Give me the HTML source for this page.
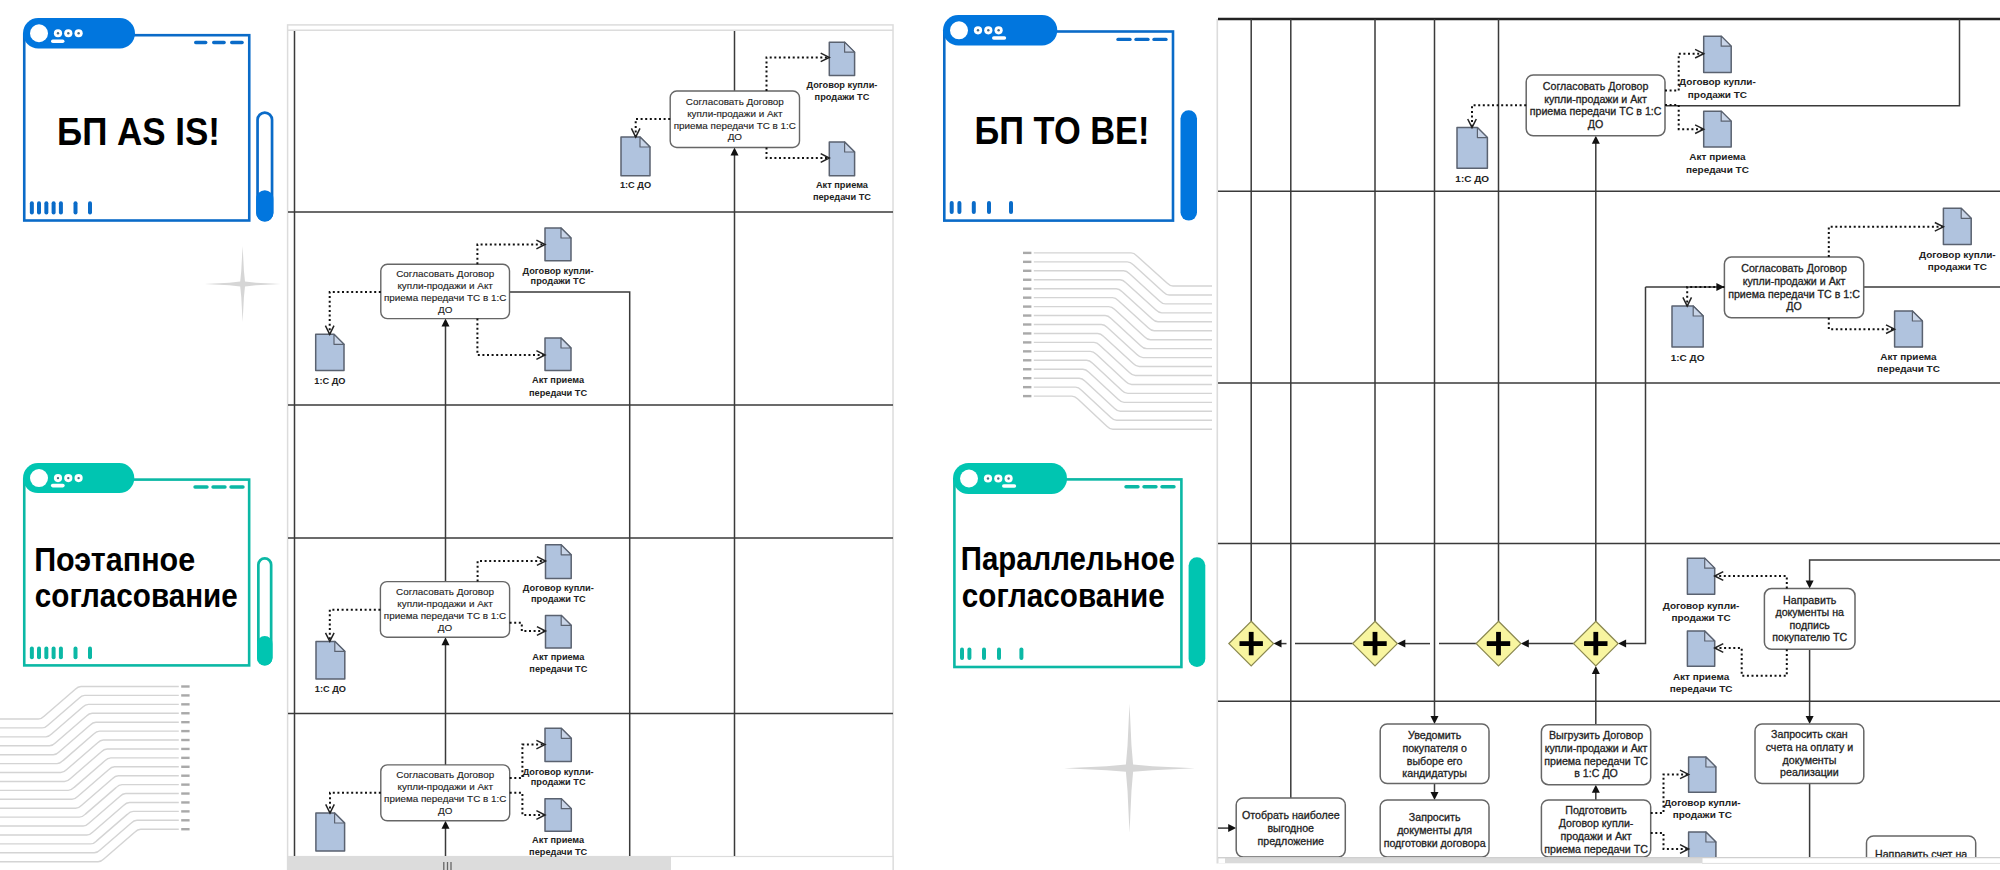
<!DOCTYPE html>
<html><head><meta charset="utf-8"><title>BPMN</title>
<style>html,body{margin:0;padding:0;background:#fff;}body{width:2000px;height:870px;position:relative;overflow:hidden;font-family:"Liberation Sans",sans-serif;}</style>
</head><body>
<svg width="2000" height="870" viewBox="0 0 2000 870" style="position:absolute;left:0;top:0">
<g font-family="Liberation Sans, sans-serif">
<path d="M0,719 H38.4 Q41.4,719 44.4,716 L75,689.5 Q78,686.5 81,686.5 H178.8" fill="none" stroke="#d4d4d4" stroke-width="1.4"/>
<line x1="181.2" y1="686.5" x2="189.6" y2="686.5" stroke="#a9a9a9" stroke-width="2.4"/>
<path d="M0,727.92 H42.13 Q45.13,727.92 48.13,724.92 L78.73,698.42 Q81.73,695.42 84.73,695.42 H178.8" fill="none" stroke="#d4d4d4" stroke-width="1.4"/>
<line x1="181.2" y1="695.42" x2="189.6" y2="695.42" stroke="#a9a9a9" stroke-width="2.4"/>
<path d="M0,736.84 H45.86 Q48.86,736.84 51.86,733.84 L82.46,707.34 Q85.46,704.34 88.46,704.34 H178.8" fill="none" stroke="#d4d4d4" stroke-width="1.4"/>
<line x1="181.2" y1="704.34" x2="189.6" y2="704.34" stroke="#a9a9a9" stroke-width="2.4"/>
<path d="M0,745.76 H49.59 Q52.59,745.76 55.59,742.76 L86.19,716.26 Q89.19,713.26 92.19,713.26 H178.8" fill="none" stroke="#d4d4d4" stroke-width="1.4"/>
<line x1="181.2" y1="713.26" x2="189.6" y2="713.26" stroke="#a9a9a9" stroke-width="2.4"/>
<path d="M0,754.68 H53.32 Q56.32,754.68 59.32,751.68 L89.92,725.18 Q92.92,722.18 95.92,722.18 H178.8" fill="none" stroke="#d4d4d4" stroke-width="1.4"/>
<line x1="181.2" y1="722.18" x2="189.6" y2="722.18" stroke="#a9a9a9" stroke-width="2.4"/>
<path d="M0,763.6 H57.05 Q60.05,763.6 63.05,760.6 L93.65,734.1 Q96.65,731.1 99.65,731.1 H178.8" fill="none" stroke="#d4d4d4" stroke-width="1.4"/>
<line x1="181.2" y1="731.1" x2="189.6" y2="731.1" stroke="#a9a9a9" stroke-width="2.4"/>
<path d="M0,772.52 H60.78 Q63.78,772.52 66.78,769.52 L97.38,743.02 Q100.38,740.02 103.38,740.02 H178.8" fill="none" stroke="#d4d4d4" stroke-width="1.4"/>
<line x1="181.2" y1="740.02" x2="189.6" y2="740.02" stroke="#a9a9a9" stroke-width="2.4"/>
<path d="M0,781.44 H64.51 Q67.51,781.44 70.51,778.44 L101.11,751.94 Q104.11,748.94 107.11,748.94 H178.8" fill="none" stroke="#d4d4d4" stroke-width="1.4"/>
<line x1="181.2" y1="748.94" x2="189.6" y2="748.94" stroke="#a9a9a9" stroke-width="2.4"/>
<path d="M0,790.36 H68.24 Q71.24,790.36 74.24,787.36 L104.84,760.86 Q107.84,757.86 110.84,757.86 H178.8" fill="none" stroke="#d4d4d4" stroke-width="1.4"/>
<line x1="181.2" y1="757.86" x2="189.6" y2="757.86" stroke="#a9a9a9" stroke-width="2.4"/>
<path d="M0,799.28 H71.97 Q74.97,799.28 77.97,796.28 L108.57,769.78 Q111.57,766.78 114.57,766.78 H178.8" fill="none" stroke="#d4d4d4" stroke-width="1.4"/>
<line x1="181.2" y1="766.78" x2="189.6" y2="766.78" stroke="#a9a9a9" stroke-width="2.4"/>
<path d="M0,808.2 H75.7 Q78.7,808.2 81.7,805.2 L112.3,778.7 Q115.3,775.7 118.3,775.7 H178.8" fill="none" stroke="#d4d4d4" stroke-width="1.4"/>
<line x1="181.2" y1="775.7" x2="189.6" y2="775.7" stroke="#a9a9a9" stroke-width="2.4"/>
<path d="M0,817.12 H79.43 Q82.43,817.12 85.43,814.12 L116.03,787.62 Q119.03,784.62 122.03,784.62 H178.8" fill="none" stroke="#d4d4d4" stroke-width="1.4"/>
<line x1="181.2" y1="784.62" x2="189.6" y2="784.62" stroke="#a9a9a9" stroke-width="2.4"/>
<path d="M0,826.04 H83.16 Q86.16,826.04 89.16,823.04 L119.76,796.54 Q122.76,793.54 125.76,793.54 H178.8" fill="none" stroke="#d4d4d4" stroke-width="1.4"/>
<line x1="181.2" y1="793.54" x2="189.6" y2="793.54" stroke="#a9a9a9" stroke-width="2.4"/>
<path d="M0,834.96 H86.89 Q89.89,834.96 92.89,831.96 L123.49,805.46 Q126.49,802.46 129.49,802.46 H178.8" fill="none" stroke="#d4d4d4" stroke-width="1.4"/>
<line x1="181.2" y1="802.46" x2="189.6" y2="802.46" stroke="#a9a9a9" stroke-width="2.4"/>
<path d="M0,843.88 H90.62 Q93.62,843.88 96.62,840.88 L127.22,814.38 Q130.22,811.38 133.22,811.38 H178.8" fill="none" stroke="#d4d4d4" stroke-width="1.4"/>
<line x1="181.2" y1="811.38" x2="189.6" y2="811.38" stroke="#a9a9a9" stroke-width="2.4"/>
<path d="M0,852.8 H94.35 Q97.35,852.8 100.35,849.8 L130.95,823.3 Q133.95,820.3 136.95,820.3 H178.8" fill="none" stroke="#d4d4d4" stroke-width="1.4"/>
<line x1="181.2" y1="820.3" x2="189.6" y2="820.3" stroke="#a9a9a9" stroke-width="2.4"/>
<path d="M0,861.72 H98.08 Q101.08,861.72 104.08,858.72 L134.68,832.22 Q137.68,829.22 140.68,829.22 H178.8" fill="none" stroke="#d4d4d4" stroke-width="1.4"/>
<line x1="181.2" y1="829.22" x2="189.6" y2="829.22" stroke="#a9a9a9" stroke-width="2.4"/>
<path d="M1033.8,252.9 H1131 Q1134,252.9 1137,255.9 L1167,283 Q1170,286 1173,286 H1212" fill="none" stroke="#d4d4d4" stroke-width="1.4"/>
<line x1="1023" y1="252.9" x2="1031.4" y2="252.9" stroke="#a9a9a9" stroke-width="2.4"/>
<path d="M1033.8,261.85 H1127.3 Q1130.3,261.85 1133.3,264.85 L1163.24,291.95 Q1166.24,294.95 1169.24,294.95 H1212" fill="none" stroke="#d4d4d4" stroke-width="1.4"/>
<line x1="1023" y1="261.85" x2="1031.4" y2="261.85" stroke="#a9a9a9" stroke-width="2.4"/>
<path d="M1033.8,270.8 H1123.6 Q1126.6,270.8 1129.6,273.8 L1159.48,300.9 Q1162.48,303.9 1165.48,303.9 H1212" fill="none" stroke="#d4d4d4" stroke-width="1.4"/>
<line x1="1023" y1="270.8" x2="1031.4" y2="270.8" stroke="#a9a9a9" stroke-width="2.4"/>
<path d="M1033.8,279.75 H1119.9 Q1122.9,279.75 1125.9,282.75 L1155.72,309.85 Q1158.72,312.85 1161.72,312.85 H1212" fill="none" stroke="#d4d4d4" stroke-width="1.4"/>
<line x1="1023" y1="279.75" x2="1031.4" y2="279.75" stroke="#a9a9a9" stroke-width="2.4"/>
<path d="M1033.8,288.7 H1116.2 Q1119.2,288.7 1122.2,291.7 L1151.96,318.8 Q1154.96,321.8 1157.96,321.8 H1212" fill="none" stroke="#d4d4d4" stroke-width="1.4"/>
<line x1="1023" y1="288.7" x2="1031.4" y2="288.7" stroke="#a9a9a9" stroke-width="2.4"/>
<path d="M1033.8,297.65 H1112.5 Q1115.5,297.65 1118.5,300.65 L1148.2,327.75 Q1151.2,330.75 1154.2,330.75 H1212" fill="none" stroke="#d4d4d4" stroke-width="1.4"/>
<line x1="1023" y1="297.65" x2="1031.4" y2="297.65" stroke="#a9a9a9" stroke-width="2.4"/>
<path d="M1033.8,306.6 H1108.8 Q1111.8,306.6 1114.8,309.6 L1144.44,336.7 Q1147.44,339.7 1150.44,339.7 H1212" fill="none" stroke="#d4d4d4" stroke-width="1.4"/>
<line x1="1023" y1="306.6" x2="1031.4" y2="306.6" stroke="#a9a9a9" stroke-width="2.4"/>
<path d="M1033.8,315.55 H1105.1 Q1108.1,315.55 1111.1,318.55 L1140.68,345.65 Q1143.68,348.65 1146.68,348.65 H1212" fill="none" stroke="#d4d4d4" stroke-width="1.4"/>
<line x1="1023" y1="315.55" x2="1031.4" y2="315.55" stroke="#a9a9a9" stroke-width="2.4"/>
<path d="M1033.8,324.5 H1101.4 Q1104.4,324.5 1107.4,327.5 L1136.92,354.6 Q1139.92,357.6 1142.92,357.6 H1212" fill="none" stroke="#d4d4d4" stroke-width="1.4"/>
<line x1="1023" y1="324.5" x2="1031.4" y2="324.5" stroke="#a9a9a9" stroke-width="2.4"/>
<path d="M1033.8,333.45 H1097.7 Q1100.7,333.45 1103.7,336.45 L1133.16,363.55 Q1136.16,366.55 1139.16,366.55 H1212" fill="none" stroke="#d4d4d4" stroke-width="1.4"/>
<line x1="1023" y1="333.45" x2="1031.4" y2="333.45" stroke="#a9a9a9" stroke-width="2.4"/>
<path d="M1033.8,342.4 H1094 Q1097,342.4 1100,345.4 L1129.4,372.5 Q1132.4,375.5 1135.4,375.5 H1212" fill="none" stroke="#d4d4d4" stroke-width="1.4"/>
<line x1="1023" y1="342.4" x2="1031.4" y2="342.4" stroke="#a9a9a9" stroke-width="2.4"/>
<path d="M1033.8,351.35 H1090.3 Q1093.3,351.35 1096.3,354.35 L1125.64,381.45 Q1128.64,384.45 1131.64,384.45 H1212" fill="none" stroke="#d4d4d4" stroke-width="1.4"/>
<line x1="1023" y1="351.35" x2="1031.4" y2="351.35" stroke="#a9a9a9" stroke-width="2.4"/>
<path d="M1033.8,360.3 H1086.6 Q1089.6,360.3 1092.6,363.3 L1121.88,390.4 Q1124.88,393.4 1127.88,393.4 H1212" fill="none" stroke="#d4d4d4" stroke-width="1.4"/>
<line x1="1023" y1="360.3" x2="1031.4" y2="360.3" stroke="#a9a9a9" stroke-width="2.4"/>
<path d="M1033.8,369.25 H1082.9 Q1085.9,369.25 1088.9,372.25 L1118.12,399.35 Q1121.12,402.35 1124.12,402.35 H1212" fill="none" stroke="#d4d4d4" stroke-width="1.4"/>
<line x1="1023" y1="369.25" x2="1031.4" y2="369.25" stroke="#a9a9a9" stroke-width="2.4"/>
<path d="M1033.8,378.2 H1079.2 Q1082.2,378.2 1085.2,381.2 L1114.36,408.3 Q1117.36,411.3 1120.36,411.3 H1212" fill="none" stroke="#d4d4d4" stroke-width="1.4"/>
<line x1="1023" y1="378.2" x2="1031.4" y2="378.2" stroke="#a9a9a9" stroke-width="2.4"/>
<path d="M1033.8,387.15 H1075.5 Q1078.5,387.15 1081.5,390.15 L1110.6,417.25 Q1113.6,420.25 1116.6,420.25 H1212" fill="none" stroke="#d4d4d4" stroke-width="1.4"/>
<line x1="1023" y1="387.15" x2="1031.4" y2="387.15" stroke="#a9a9a9" stroke-width="2.4"/>
<path d="M1033.8,396.1 H1071.8 Q1074.8,396.1 1077.8,399.1 L1106.84,426.2 Q1109.84,429.2 1112.84,429.2 H1212" fill="none" stroke="#d4d4d4" stroke-width="1.4"/>
<line x1="1023" y1="396.1" x2="1031.4" y2="396.1" stroke="#a9a9a9" stroke-width="2.4"/>
<path d="M242.6,246 L243.92,270.7 L245,281.6 L255.9,282.68 L280.6,284 L255.9,285.32 L245,286.4 L243.92,297.3 L242.6,322 L241.28,297.3 L240.2,286.4 L229.3,285.32 L204.6,284 L229.3,282.68 L240.2,281.6 L241.28,270.7 Z" fill="#d6d6d6"/>
<path d="M1129.5,703.7 L1131.48,745.62 L1133.1,764.6 L1152.42,766.22 L1195,768.2 L1152.42,770.18 L1133.1,771.8 L1131.48,790.78 L1129.5,832.7 L1127.52,790.78 L1125.9,771.8 L1106.58,770.18 L1064,768.2 L1106.58,766.22 L1125.9,764.6 L1127.52,745.62 Z" fill="#d6d6d6"/>
<rect x="24.25" y="35.2" width="225" height="185.3" fill="none" stroke="#0a6bc8" stroke-width="2.6"/>
<rect x="23" y="18" width="112" height="30.5" rx="15.25" fill="#0176de"/>
<circle cx="39" cy="33.25" r="9" fill="#fff"/>
<circle cx="58" cy="33.25" r="4.1" fill="#fff"/><circle cx="58" cy="33.25" r="1.2" fill="#4a6a80"/>
<circle cx="68.3" cy="33.25" r="4.1" fill="#fff"/><circle cx="68.3" cy="33.25" r="1.2" fill="#4a6a80"/>
<circle cx="78.6" cy="33.25" r="4.1" fill="#fff"/><circle cx="78.6" cy="33.25" r="1.2" fill="#4a6a80"/>
<rect x="51" y="39.4" width="13.5" height="3.6" rx="1.8" fill="#fff"/>
<line x1="195.7" y1="42.5" x2="205.7" y2="42.5" stroke="#0a6bc8" stroke-width="3.4" stroke-linecap="round"/>
<line x1="213.7" y1="42.5" x2="224.1" y2="42.5" stroke="#0a6bc8" stroke-width="3.4" stroke-linecap="round"/>
<line x1="231.7" y1="42.5" x2="242.1" y2="42.5" stroke="#0a6bc8" stroke-width="3.4" stroke-linecap="round"/>
<line x1="31.85" y1="203.3" x2="31.85" y2="212.5" stroke="#0a6bc8" stroke-width="4" stroke-linecap="round"/>
<line x1="39" y1="203.3" x2="39" y2="212.5" stroke="#0a6bc8" stroke-width="4" stroke-linecap="round"/>
<line x1="46.35" y1="203.3" x2="46.35" y2="212.5" stroke="#0a6bc8" stroke-width="4" stroke-linecap="round"/>
<line x1="53.6" y1="203.3" x2="53.6" y2="212.5" stroke="#0a6bc8" stroke-width="4" stroke-linecap="round"/>
<line x1="60.9" y1="203.3" x2="60.9" y2="212.5" stroke="#0a6bc8" stroke-width="4" stroke-linecap="round"/>
<line x1="75.5" y1="203.3" x2="75.5" y2="212.5" stroke="#0a6bc8" stroke-width="4" stroke-linecap="round"/>
<line x1="90" y1="203.3" x2="90" y2="212.5" stroke="#0a6bc8" stroke-width="4" stroke-linecap="round"/>
<rect x="257.55" y="112.55" width="14.5" height="107.7" rx="7.25" fill="none" stroke="#0a6bc8" stroke-width="2.7"/>
<rect x="256.2" y="190.3" width="17.2" height="31.3" rx="8.6" fill="#0176de"/>
<text x="57" y="145" font-size="39.5" font-weight="bold" fill="#000" textLength="163" lengthAdjust="spacingAndGlyphs">БП AS IS!</text>
<rect x="24.25" y="479.6" width="224.9" height="185.8" fill="none" stroke="#0bb8a5" stroke-width="2.6"/>
<rect x="23" y="463.1" width="111.3" height="30" rx="15" fill="#00c5b1"/>
<circle cx="39" cy="478.1" r="9" fill="#fff"/>
<circle cx="58" cy="478.1" r="4.1" fill="#fff"/><circle cx="58" cy="478.1" r="1.2" fill="#4a6a80"/>
<circle cx="68.3" cy="478.1" r="4.1" fill="#fff"/><circle cx="68.3" cy="478.1" r="1.2" fill="#4a6a80"/>
<circle cx="78.6" cy="478.1" r="4.1" fill="#fff"/><circle cx="78.6" cy="478.1" r="1.2" fill="#4a6a80"/>
<rect x="50.9" y="483.8" width="13.8" height="3.6" rx="1.8" fill="#fff"/>
<line x1="195" y1="487" x2="207" y2="487" stroke="#0bb8a5" stroke-width="3.4" stroke-linecap="round"/>
<line x1="213" y1="487" x2="225" y2="487" stroke="#0bb8a5" stroke-width="3.4" stroke-linecap="round"/>
<line x1="231" y1="487" x2="243" y2="487" stroke="#0bb8a5" stroke-width="3.4" stroke-linecap="round"/>
<line x1="31.85" y1="648.4" x2="31.85" y2="657.2" stroke="#0bb8a5" stroke-width="4" stroke-linecap="round"/>
<line x1="39" y1="648.4" x2="39" y2="657.2" stroke="#0bb8a5" stroke-width="4" stroke-linecap="round"/>
<line x1="46.35" y1="648.4" x2="46.35" y2="657.2" stroke="#0bb8a5" stroke-width="4" stroke-linecap="round"/>
<line x1="53.6" y1="648.4" x2="53.6" y2="657.2" stroke="#0bb8a5" stroke-width="4" stroke-linecap="round"/>
<line x1="60.9" y1="648.4" x2="60.9" y2="657.2" stroke="#0bb8a5" stroke-width="4" stroke-linecap="round"/>
<line x1="75.5" y1="648.4" x2="75.5" y2="657.2" stroke="#0bb8a5" stroke-width="4" stroke-linecap="round"/>
<line x1="90" y1="648.4" x2="90" y2="657.2" stroke="#0bb8a5" stroke-width="4" stroke-linecap="round"/>
<rect x="258.35" y="558.35" width="12.8" height="105.9" rx="6.4" fill="none" stroke="#0bb8a5" stroke-width="2.7"/>
<rect x="257" y="636" width="15.5" height="29.6" rx="7.75" fill="#00c5b1"/>
<text x="34.2" y="571" font-size="33.2" font-weight="bold" fill="#000" textLength="161" lengthAdjust="spacingAndGlyphs">Поэтапное</text>
<text x="34.8" y="607" font-size="33.2" font-weight="bold" fill="#000" textLength="203" lengthAdjust="spacingAndGlyphs">согласование</text>
<rect x="944.3" y="31.5" width="228.7" height="189.1" fill="none" stroke="#0a6bc8" stroke-width="2.6"/>
<rect x="943" y="15" width="114.3" height="30.6" rx="15.3" fill="#0176de"/>
<circle cx="959" cy="30.3" r="9" fill="#fff"/>
<circle cx="978" cy="30.3" r="4.1" fill="#fff"/><circle cx="978" cy="30.3" r="1.2" fill="#4a6a80"/>
<circle cx="988.3" cy="30.3" r="4.1" fill="#fff"/><circle cx="988.3" cy="30.3" r="1.2" fill="#4a6a80"/>
<circle cx="998.6" cy="30.3" r="4.1" fill="#fff"/><circle cx="998.6" cy="30.3" r="1.2" fill="#4a6a80"/>
<rect x="992" y="36.2" width="14.2" height="3.6" rx="1.8" fill="#fff"/>
<line x1="1118" y1="39.4" x2="1130" y2="39.4" stroke="#0a6bc8" stroke-width="3.4" stroke-linecap="round"/>
<line x1="1136" y1="39.4" x2="1148" y2="39.4" stroke="#0a6bc8" stroke-width="3.4" stroke-linecap="round"/>
<line x1="1154" y1="39.4" x2="1166" y2="39.4" stroke="#0a6bc8" stroke-width="3.4" stroke-linecap="round"/>
<line x1="951.7" y1="203" x2="951.7" y2="212" stroke="#0a6bc8" stroke-width="4" stroke-linecap="round"/>
<line x1="959.4" y1="203" x2="959.4" y2="212" stroke="#0a6bc8" stroke-width="4" stroke-linecap="round"/>
<line x1="973.8" y1="203" x2="973.8" y2="212" stroke="#0a6bc8" stroke-width="4" stroke-linecap="round"/>
<line x1="989" y1="203" x2="989" y2="212" stroke="#0a6bc8" stroke-width="4" stroke-linecap="round"/>
<line x1="1011" y1="203" x2="1011" y2="212" stroke="#0a6bc8" stroke-width="4" stroke-linecap="round"/>
<rect x="1180.5" y="110.3" width="16.5" height="110.3" rx="8.25" fill="#0176de"/>
<text x="974.5" y="144.4" font-size="39.5" font-weight="bold" fill="#000" textLength="175" lengthAdjust="spacingAndGlyphs">БП TO BE!</text>
<rect x="954.4" y="479.4" width="227" height="187.6" fill="none" stroke="#0bb8a5" stroke-width="2.6"/>
<rect x="953" y="463" width="114" height="31" rx="15.5" fill="#00c5b1"/>
<circle cx="969" cy="478.5" r="9" fill="#fff"/>
<circle cx="988" cy="478.5" r="4.1" fill="#fff"/><circle cx="988" cy="478.5" r="1.2" fill="#4a6a80"/>
<circle cx="998.3" cy="478.5" r="4.1" fill="#fff"/><circle cx="998.3" cy="478.5" r="1.2" fill="#4a6a80"/>
<circle cx="1008.6" cy="478.5" r="4.1" fill="#fff"/><circle cx="1008.6" cy="478.5" r="1.2" fill="#4a6a80"/>
<rect x="1002" y="484.2" width="14.2" height="3.6" rx="1.8" fill="#fff"/>
<line x1="1126" y1="486.8" x2="1138" y2="486.8" stroke="#0bb8a5" stroke-width="3.4" stroke-linecap="round"/>
<line x1="1144" y1="486.8" x2="1156" y2="486.8" stroke="#0bb8a5" stroke-width="3.4" stroke-linecap="round"/>
<line x1="1162" y1="486.8" x2="1174" y2="486.8" stroke="#0bb8a5" stroke-width="3.4" stroke-linecap="round"/>
<line x1="962" y1="649.5" x2="962" y2="658" stroke="#0bb8a5" stroke-width="4" stroke-linecap="round"/>
<line x1="969.4" y1="649.5" x2="969.4" y2="658" stroke="#0bb8a5" stroke-width="4" stroke-linecap="round"/>
<line x1="984" y1="649.5" x2="984" y2="658" stroke="#0bb8a5" stroke-width="4" stroke-linecap="round"/>
<line x1="999" y1="649.5" x2="999" y2="658" stroke="#0bb8a5" stroke-width="4" stroke-linecap="round"/>
<line x1="1021.4" y1="649.5" x2="1021.4" y2="658" stroke="#0bb8a5" stroke-width="4" stroke-linecap="round"/>
<rect x="1188.6" y="557.2" width="16.7" height="109.8" rx="8.35" fill="#00c5b1"/>
<text x="960.8" y="570.2" font-size="33.2" font-weight="bold" fill="#000" textLength="214" lengthAdjust="spacingAndGlyphs">Параллельное</text>
<text x="961.8" y="606.8" font-size="33.2" font-weight="bold" fill="#000" textLength="203" lengthAdjust="spacingAndGlyphs">согласование</text>
<rect x="287.6" y="24.9" width="605.4" height="860" fill="#fff" stroke="#dcdcdc" stroke-width="1.5"/>
<line x1="288" y1="30.3" x2="893" y2="30.3" stroke="#dcdcdc" stroke-width="1.5"/>
<rect x="288" y="856.5" width="605" height="20" fill="#fff" stroke="#dcdcdc" stroke-width="1.2"/>
<rect x="288" y="857" width="383" height="14" fill="#dcdcdc"/>
<line x1="443.8" y1="862" x2="443.8" y2="870" stroke="#666" stroke-width="1.3"/>
<line x1="447.5" y1="862" x2="447.5" y2="870" stroke="#666" stroke-width="1.3"/>
<line x1="451" y1="862" x2="451" y2="870" stroke="#666" stroke-width="1.3"/>
<path d="M294.5,31 L294.5,856" fill="none" stroke="#3a3a3a" stroke-width="1.5"/>
<path d="M288,212 L893,212" fill="none" stroke="#3a3a3a" stroke-width="1.5"/>
<path d="M288,405 L893,405" fill="none" stroke="#3a3a3a" stroke-width="1.5"/>
<path d="M288,538 L893,538" fill="none" stroke="#3a3a3a" stroke-width="1.5"/>
<path d="M288,713.5 L893,713.5" fill="none" stroke="#3a3a3a" stroke-width="1.5"/>
<path d="M734.5,31 L734.5,91" fill="none" stroke="#3a3a3a" stroke-width="1.5"/>
<path d="M734.5,856 L734.5,150" fill="none" stroke="#3a3a3a" stroke-width="1.5"/>
<path d="M734.5,147.5 L730.5,155.5 L738.5,155.5Z" fill="#111"/>
<path d="M445.5,581.6 L445.5,321" fill="none" stroke="#3a3a3a" stroke-width="1.5"/>
<path d="M445.5,318.6 L441.5,326.6 L449.5,326.6Z" fill="#111"/>
<path d="M445.5,765 L445.5,640" fill="none" stroke="#3a3a3a" stroke-width="1.5"/>
<path d="M445.5,637.2 L441.5,645.2 L449.5,645.2Z" fill="#111"/>
<path d="M445.5,856 L445.5,824" fill="none" stroke="#3a3a3a" stroke-width="1.5"/>
<path d="M445.5,820.8 L441.5,828.8 L449.5,828.8Z" fill="#111"/>
<path d="M509.5,292 L629.7,292 L629.7,856" fill="none" stroke="#3a3a3a" stroke-width="1.5"/>
<rect x="670.2" y="91" width="129.3" height="56.5" rx="6.5" fill="#fff" stroke="#666" stroke-width="1.4"/>
<text transform="translate(734.85,104.71) scale(1.075,1)" font-size="9.2" fill="#222" stroke="#222" stroke-width="0.12" text-anchor="middle">Согласовать Договор</text>
<text transform="translate(734.85,116.61) scale(1.075,1)" font-size="9.2" fill="#222" stroke="#222" stroke-width="0.12" text-anchor="middle">купли-продажи и Акт</text>
<text transform="translate(734.85,128.51) scale(1.075,1)" font-size="9.2" fill="#222" stroke="#222" stroke-width="0.12" text-anchor="middle">приема передачи ТС в 1:С</text>
<text transform="translate(734.85,140.41) scale(1.075,1)" font-size="9.2" fill="#222" stroke="#222" stroke-width="0.12" text-anchor="middle">ДО</text>
<rect x="380.8" y="264.3" width="128.7" height="54.3" rx="6.5" fill="#fff" stroke="#666" stroke-width="1.4"/>
<text transform="translate(445.15,276.91) scale(1.075,1)" font-size="9.2" fill="#222" stroke="#222" stroke-width="0.12" text-anchor="middle">Согласовать Договор</text>
<text transform="translate(445.15,288.81) scale(1.075,1)" font-size="9.2" fill="#222" stroke="#222" stroke-width="0.12" text-anchor="middle">купли-продажи и Акт</text>
<text transform="translate(445.15,300.71) scale(1.075,1)" font-size="9.2" fill="#222" stroke="#222" stroke-width="0.12" text-anchor="middle">приема передачи ТС в 1:С</text>
<text transform="translate(445.15,312.61) scale(1.075,1)" font-size="9.2" fill="#222" stroke="#222" stroke-width="0.12" text-anchor="middle">ДО</text>
<rect x="380.4" y="581.6" width="129.2" height="55.6" rx="6.5" fill="#fff" stroke="#666" stroke-width="1.4"/>
<text transform="translate(445,594.86) scale(1.075,1)" font-size="9.2" fill="#222" stroke="#222" stroke-width="0.12" text-anchor="middle">Согласовать Договор</text>
<text transform="translate(445,606.76) scale(1.075,1)" font-size="9.2" fill="#222" stroke="#222" stroke-width="0.12" text-anchor="middle">купли-продажи и Акт</text>
<text transform="translate(445,618.66) scale(1.075,1)" font-size="9.2" fill="#222" stroke="#222" stroke-width="0.12" text-anchor="middle">приема передачи ТС в 1:С</text>
<text transform="translate(445,630.56) scale(1.075,1)" font-size="9.2" fill="#222" stroke="#222" stroke-width="0.12" text-anchor="middle">ДО</text>
<rect x="380.8" y="764.9" width="128.9" height="55.9" rx="6.5" fill="#fff" stroke="#666" stroke-width="1.4"/>
<text transform="translate(445.25,778.31) scale(1.075,1)" font-size="9.2" fill="#222" stroke="#222" stroke-width="0.12" text-anchor="middle">Согласовать Договор</text>
<text transform="translate(445.25,790.21) scale(1.075,1)" font-size="9.2" fill="#222" stroke="#222" stroke-width="0.12" text-anchor="middle">купли-продажи и Акт</text>
<text transform="translate(445.25,802.11) scale(1.075,1)" font-size="9.2" fill="#222" stroke="#222" stroke-width="0.12" text-anchor="middle">приема передачи ТС в 1:С</text>
<text transform="translate(445.25,814.01) scale(1.075,1)" font-size="9.2" fill="#222" stroke="#222" stroke-width="0.12" text-anchor="middle">ДО</text>
<path d="M829.3,42.2 H844.6 L854.6,52.2 V75.5 H829.3 Z" fill="#b0c3de" stroke="#5a6270" stroke-width="1.5" stroke-linejoin="round"/>
<path d="M844.6,42.2 V52.2 H854.6 Z" fill="#c9d5e8" stroke="#5a6270" stroke-width="1.2000000000000002" stroke-linejoin="round"/>
<text transform="translate(841.95,88.1) scale(1.075,1)" font-size="8.6" font-weight="bold" fill="#222" text-anchor="middle">Договор купли-</text>
<text transform="translate(841.95,99.9) scale(1.075,1)" font-size="8.6" font-weight="bold" fill="#222" text-anchor="middle">продажи ТС</text>
<path d="M829.3,142 H844.6 L854.6,152 V175.7 H829.3 Z" fill="#b0c3de" stroke="#5a6270" stroke-width="1.5" stroke-linejoin="round"/>
<path d="M844.6,142 V152 H854.6 Z" fill="#c9d5e8" stroke="#5a6270" stroke-width="1.2000000000000002" stroke-linejoin="round"/>
<text transform="translate(841.95,188) scale(1.075,1)" font-size="8.6" font-weight="bold" fill="#222" text-anchor="middle">Акт приема</text>
<text transform="translate(841.95,200) scale(1.075,1)" font-size="8.6" font-weight="bold" fill="#222" text-anchor="middle">передачи ТС</text>
<path d="M621,137 H640 L650,147 V175.7 H621 Z" fill="#b0c3de" stroke="#5a6270" stroke-width="1.5" stroke-linejoin="round"/>
<path d="M640,137 V147 H650 Z" fill="#c9d5e8" stroke="#5a6270" stroke-width="1.2000000000000002" stroke-linejoin="round"/>
<text transform="translate(635.5,188.1) scale(1.075,1)" font-size="8.6" font-weight="bold" fill="#222" text-anchor="middle">1:С ДО</text>
<path d="M545,228 H561 L571,238 V260.7 H545 Z" fill="#b0c3de" stroke="#5a6270" stroke-width="1.5" stroke-linejoin="round"/>
<path d="M561,228 V238 H571 Z" fill="#c9d5e8" stroke="#5a6270" stroke-width="1.2000000000000002" stroke-linejoin="round"/>
<text transform="translate(558,273.5) scale(1.075,1)" font-size="8.6" font-weight="bold" fill="#222" text-anchor="middle">Договор купли-</text>
<text transform="translate(558,284.3) scale(1.075,1)" font-size="8.6" font-weight="bold" fill="#222" text-anchor="middle">продажи ТС</text>
<path d="M545,338 H561 L571,348 V370.5 H545 Z" fill="#b0c3de" stroke="#5a6270" stroke-width="1.5" stroke-linejoin="round"/>
<path d="M561,338 V348 H571 Z" fill="#c9d5e8" stroke="#5a6270" stroke-width="1.2000000000000002" stroke-linejoin="round"/>
<text transform="translate(558,383.1) scale(1.075,1)" font-size="8.6" font-weight="bold" fill="#222" text-anchor="middle">Акт приема</text>
<text transform="translate(558,395.9) scale(1.075,1)" font-size="8.6" font-weight="bold" fill="#222" text-anchor="middle">передачи ТС</text>
<path d="M315.7,334.3 H334 L344,344.3 V370.5 H315.7 Z" fill="#b0c3de" stroke="#5a6270" stroke-width="1.5" stroke-linejoin="round"/>
<path d="M334,334.3 V344.3 H344 Z" fill="#c9d5e8" stroke="#5a6270" stroke-width="1.2000000000000002" stroke-linejoin="round"/>
<text transform="translate(329.85,384.1) scale(1.075,1)" font-size="8.6" font-weight="bold" fill="#222" text-anchor="middle">1:С ДО</text>
<path d="M545.5,544.8 H561.2 L571.2,554.8 V578.6 H545.5 Z" fill="#b0c3de" stroke="#5a6270" stroke-width="1.5" stroke-linejoin="round"/>
<path d="M561.2,544.8 V554.8 H571.2 Z" fill="#c9d5e8" stroke="#5a6270" stroke-width="1.2000000000000002" stroke-linejoin="round"/>
<text transform="translate(558.35,590.9) scale(1.075,1)" font-size="8.6" font-weight="bold" fill="#222" text-anchor="middle">Договор купли-</text>
<text transform="translate(558.35,602) scale(1.075,1)" font-size="8.6" font-weight="bold" fill="#222" text-anchor="middle">продажи ТС</text>
<path d="M545.5,615.4 H561.2 L571.2,625.4 V648 H545.5 Z" fill="#b0c3de" stroke="#5a6270" stroke-width="1.5" stroke-linejoin="round"/>
<path d="M561.2,615.4 V625.4 H571.2 Z" fill="#c9d5e8" stroke="#5a6270" stroke-width="1.2000000000000002" stroke-linejoin="round"/>
<text transform="translate(558.35,660.3) scale(1.075,1)" font-size="8.6" font-weight="bold" fill="#222" text-anchor="middle">Акт приема</text>
<text transform="translate(558.35,672.1) scale(1.075,1)" font-size="8.6" font-weight="bold" fill="#222" text-anchor="middle">передачи ТС</text>
<path d="M316,641.4 H334.8 L344.8,651.4 V679 H316 Z" fill="#b0c3de" stroke="#5a6270" stroke-width="1.5" stroke-linejoin="round"/>
<path d="M334.8,641.4 V651.4 H344.8 Z" fill="#c9d5e8" stroke="#5a6270" stroke-width="1.2000000000000002" stroke-linejoin="round"/>
<text transform="translate(330.4,692.1) scale(1.075,1)" font-size="8.6" font-weight="bold" fill="#222" text-anchor="middle">1:С ДО</text>
<path d="M545,728.3 H561.3 L571.3,738.3 V761.6 H545 Z" fill="#b0c3de" stroke="#5a6270" stroke-width="1.5" stroke-linejoin="round"/>
<path d="M561.3,728.3 V738.3 H571.3 Z" fill="#c9d5e8" stroke="#5a6270" stroke-width="1.2000000000000002" stroke-linejoin="round"/>
<text transform="translate(558.15,775.1) scale(1.075,1)" font-size="8.6" font-weight="bold" fill="#222" text-anchor="middle">Договор купли-</text>
<text transform="translate(558.15,785.1) scale(1.075,1)" font-size="8.6" font-weight="bold" fill="#222" text-anchor="middle">продажи ТС</text>
<path d="M545,798.7 H561.3 L571.3,808.7 V831.3 H545 Z" fill="#b0c3de" stroke="#5a6270" stroke-width="1.5" stroke-linejoin="round"/>
<path d="M561.3,798.7 V808.7 H571.3 Z" fill="#c9d5e8" stroke="#5a6270" stroke-width="1.2000000000000002" stroke-linejoin="round"/>
<text transform="translate(558.15,843.4) scale(1.075,1)" font-size="8.6" font-weight="bold" fill="#222" text-anchor="middle">Акт приема</text>
<text transform="translate(558.15,854.6) scale(1.075,1)" font-size="8.6" font-weight="bold" fill="#222" text-anchor="middle">передачи ТС</text>
<path d="M315.9,813 H334.6 L344.6,823 V850.9 H315.9 Z" fill="#b0c3de" stroke="#5a6270" stroke-width="1.5" stroke-linejoin="round"/>
<path d="M334.6,813 V823 H344.6 Z" fill="#c9d5e8" stroke="#5a6270" stroke-width="1.2000000000000002" stroke-linejoin="round"/>
<path d="M766.5,91 L766.5,57.4 L829.3,57.4" fill="none" stroke="#111" stroke-width="2" stroke-dasharray="2 2.6"/>
<path d="M820.7,53.1 L829.3,57.4 L820.7,61.7" fill="none" stroke="#222" stroke-width="1.5"/>
<path d="M766.5,147.5 L766.5,158 L829.3,158" fill="none" stroke="#111" stroke-width="2" stroke-dasharray="2 2.6"/>
<path d="M820.7,153.7 L829.3,158 L820.7,162.3" fill="none" stroke="#222" stroke-width="1.5"/>
<path d="M670.2,119 L635.7,119 L635.7,137" fill="none" stroke="#111" stroke-width="2" stroke-dasharray="2 2.6"/>
<path d="M631.4,128.4 L635.7,137 L640,128.4" fill="none" stroke="#222" stroke-width="1.5"/>
<path d="M477.4,264.3 L477.4,244.5 L545,244.5" fill="none" stroke="#111" stroke-width="2" stroke-dasharray="2 2.6"/>
<path d="M536.4,240.2 L545,244.5 L536.4,248.8" fill="none" stroke="#222" stroke-width="1.5"/>
<path d="M477.4,318.6 L477.4,355 L545,355" fill="none" stroke="#111" stroke-width="2" stroke-dasharray="2 2.6"/>
<path d="M536.4,350.7 L545,355 L536.4,359.3" fill="none" stroke="#222" stroke-width="1.5"/>
<path d="M380.8,292 L329.7,292 L329.7,334.3" fill="none" stroke="#111" stroke-width="2" stroke-dasharray="2 2.6"/>
<path d="M325.4,325.7 L329.7,334.3 L334,325.7" fill="none" stroke="#222" stroke-width="1.5"/>
<path d="M477.6,581.6 L477.6,561 L545.5,561" fill="none" stroke="#111" stroke-width="2" stroke-dasharray="2 2.6"/>
<path d="M536.9,556.7 L545.5,561 L536.9,565.3" fill="none" stroke="#222" stroke-width="1.5"/>
<path d="M509.6,622.8 L521.8,622.8 L521.8,631 L545.5,631" fill="none" stroke="#111" stroke-width="2" stroke-dasharray="2 2.6"/>
<path d="M536.9,626.7 L545.5,631 L536.9,635.3" fill="none" stroke="#222" stroke-width="1.5"/>
<path d="M380.4,609.7 L329.8,609.7 L329.8,641.4" fill="none" stroke="#111" stroke-width="2" stroke-dasharray="2 2.6"/>
<path d="M325.5,632.8 L329.8,641.4 L334.1,632.8" fill="none" stroke="#222" stroke-width="1.5"/>
<path d="M509.7,778 L522.4,778 L522.4,744.6 L545,744.6" fill="none" stroke="#111" stroke-width="2" stroke-dasharray="2 2.6"/>
<path d="M536.4,740.3 L545,744.6 L536.4,748.9" fill="none" stroke="#222" stroke-width="1.5"/>
<path d="M509.7,792.8 L522.4,792.8 L522.4,815 L545,815" fill="none" stroke="#111" stroke-width="2" stroke-dasharray="2 2.6"/>
<path d="M536.4,810.7 L545,815 L536.4,819.3" fill="none" stroke="#222" stroke-width="1.5"/>
<path d="M380.8,792.8 L330,792.8 L330,813" fill="none" stroke="#111" stroke-width="2" stroke-dasharray="2 2.6"/>
<path d="M325.7,804.4 L330,813 L334.3,804.4" fill="none" stroke="#222" stroke-width="1.5"/>
<line x1="1217.3" y1="19" x2="1217.3" y2="863.5" stroke="#dcdcdc" stroke-width="1.6"/>
<path d="M1218,19 L2000,19" fill="none" stroke="#222" stroke-width="2.3"/>
<path d="M1218,191.3 L2000,191.3" fill="none" stroke="#3a3a3a" stroke-width="1.5"/>
<path d="M1218,383 L2000,383" fill="none" stroke="#3a3a3a" stroke-width="1.5"/>
<path d="M1218,543.5 L2000,543.5" fill="none" stroke="#3a3a3a" stroke-width="1.5"/>
<path d="M1218,701.2 L2000,701.2" fill="none" stroke="#3a3a3a" stroke-width="1.5"/>
<path d="M1251.2,19 L1251.2,621.6" fill="none" stroke="#3a3a3a" stroke-width="1.5"/>
<path d="M1290.8,19 L1290.8,798" fill="none" stroke="#3a3a3a" stroke-width="1.5"/>
<path d="M1375,19 L1375,621.6" fill="none" stroke="#3a3a3a" stroke-width="1.5"/>
<path d="M1434.5,19 L1434.5,720" fill="none" stroke="#3a3a3a" stroke-width="1.5"/>
<path d="M1434.5,724 L1430.5,716 L1438.5,716Z" fill="#111"/>
<path d="M1498.5,19 L1498.5,621.6" fill="none" stroke="#3a3a3a" stroke-width="1.5"/>
<path d="M1595.8,621.6 L1595.8,140" fill="none" stroke="#3a3a3a" stroke-width="1.5"/>
<path d="M1595.8,135.8 L1591.8,143.8 L1599.8,143.8Z" fill="#111"/>
<path d="M1645.5,287 L1645.5,643.6 L1622,643.6" fill="none" stroke="#3a3a3a" stroke-width="1.5"/>
<path d="M1618.1,643.6 L1626.1,639.6 L1626.1,647.6Z" fill="#111"/>
<path d="M1645.5,287 L1720,287" fill="none" stroke="#3a3a3a" stroke-width="1.5"/>
<path d="M1724.4,287 L1716.4,283 L1716.4,291Z" fill="#111"/>
<path d="M1863.7,287 L2000,287" fill="none" stroke="#3a3a3a" stroke-width="1.5"/>
<path d="M1665,105.7 L1959.5,105.7 L1959.5,19" fill="none" stroke="#3a3a3a" stroke-width="1.5"/>
<path d="M1573.5,643.6 L1525,643.6" fill="none" stroke="#3a3a3a" stroke-width="1.5"/>
<path d="M1520.8,643.6 L1528.8,639.6 L1528.8,647.6Z" fill="#111"/>
<path d="M1476.2,643.6 L1439,643.6" fill="none" stroke="#3a3a3a" stroke-width="1.5"/>
<path d="M1430,643.6 L1401,643.6" fill="none" stroke="#3a3a3a" stroke-width="1.5"/>
<path d="M1397.3,643.6 L1405.3,639.6 L1405.3,647.6Z" fill="#111"/>
<path d="M1352.7,643.6 L1295,643.6" fill="none" stroke="#3a3a3a" stroke-width="1.5"/>
<path d="M1286.5,643.6 L1277,643.6" fill="none" stroke="#3a3a3a" stroke-width="1.5"/>
<path d="M1273.5,643.6 L1281.5,639.6 L1281.5,647.6Z" fill="#111"/>
<path d="M1595.8,724.7 L1595.8,670" fill="none" stroke="#3a3a3a" stroke-width="1.5"/>
<path d="M1595.8,665.9 L1591.8,673.9 L1599.8,673.9Z" fill="#111"/>
<path d="M1595.8,800 L1595.8,789" fill="none" stroke="#3a3a3a" stroke-width="1.5"/>
<path d="M1595.8,784.7 L1591.8,792.7 L1599.8,792.7Z" fill="#111"/>
<path d="M1434.5,783.5 L1434.5,796" fill="none" stroke="#3a3a3a" stroke-width="1.5"/>
<path d="M1434.5,800 L1430.5,792 L1438.5,792Z" fill="#111"/>
<path d="M1218,828.1 L1232,828.1" fill="none" stroke="#3a3a3a" stroke-width="1.5"/>
<path d="M1236.2,828.1 L1228.2,824.1 L1228.2,832.1Z" fill="#111"/>
<path d="M2000,560 L1809.6,560 L1809.6,584" fill="none" stroke="#3a3a3a" stroke-width="1.5"/>
<path d="M1809.6,588.6 L1805.6,580.6 L1813.6,580.6Z" fill="#111"/>
<path d="M1809.6,649.3 L1809.6,720" fill="none" stroke="#3a3a3a" stroke-width="1.5"/>
<path d="M1809.6,724 L1805.6,716 L1813.6,716Z" fill="#111"/>
<path d="M1809.6,783.5 L1809.6,858" fill="none" stroke="#3a3a3a" stroke-width="1.5"/>
<path d="M1251.2,621.3 L1273.5,643.6 L1251.2,665.9 L1228.9,643.6 Z" fill="#f8f5a0" stroke="#8a8850" stroke-width="1.3"/>
<rect x="1239.5" y="641.2" width="23.4" height="4.8" fill="#000"/>
<rect x="1248.8" y="631.9" width="4.8" height="23.4" fill="#000"/>
<path d="M1375,621.3 L1397.3,643.6 L1375,665.9 L1352.7,643.6 Z" fill="#f8f5a0" stroke="#8a8850" stroke-width="1.3"/>
<rect x="1363.3" y="641.2" width="23.4" height="4.8" fill="#000"/>
<rect x="1372.6" y="631.9" width="4.8" height="23.4" fill="#000"/>
<path d="M1498.5,621.3 L1520.8,643.6 L1498.5,665.9 L1476.2,643.6 Z" fill="#f8f5a0" stroke="#8a8850" stroke-width="1.3"/>
<rect x="1486.8" y="641.2" width="23.4" height="4.8" fill="#000"/>
<rect x="1496.1" y="631.9" width="4.8" height="23.4" fill="#000"/>
<path d="M1595.8,621.3 L1618.1,643.6 L1595.8,665.9 L1573.5,643.6 Z" fill="#f8f5a0" stroke="#8a8850" stroke-width="1.3"/>
<rect x="1584.1" y="641.2" width="23.4" height="4.8" fill="#000"/>
<rect x="1593.4" y="631.9" width="4.8" height="23.4" fill="#000"/>
<rect x="1526.2" y="75" width="138.8" height="60.8" rx="7" fill="#fff" stroke="#666" stroke-width="1.5"/>
<text transform="translate(1595.6,89.65) scale(1.065,1)" font-size="10" fill="#222" stroke="#222" stroke-width="0.28" text-anchor="middle">Согласовать Договор</text>
<text transform="translate(1595.6,102.55) scale(1.065,1)" font-size="10" fill="#222" stroke="#222" stroke-width="0.28" text-anchor="middle">купли-продажи и Акт</text>
<text transform="translate(1595.6,115.45) scale(1.065,1)" font-size="10" fill="#222" stroke="#222" stroke-width="0.28" text-anchor="middle">приема передачи ТС в 1:С</text>
<text transform="translate(1595.6,128.35) scale(1.065,1)" font-size="10" fill="#222" stroke="#222" stroke-width="0.28" text-anchor="middle">ДО</text>
<rect x="1724.4" y="257.1" width="139.3" height="60.7" rx="7" fill="#fff" stroke="#666" stroke-width="1.5"/>
<text transform="translate(1794.05,271.7) scale(1.065,1)" font-size="10" fill="#222" stroke="#222" stroke-width="0.28" text-anchor="middle">Согласовать Договор</text>
<text transform="translate(1794.05,284.6) scale(1.065,1)" font-size="10" fill="#222" stroke="#222" stroke-width="0.28" text-anchor="middle">купли-продажи и Акт</text>
<text transform="translate(1794.05,297.5) scale(1.065,1)" font-size="10" fill="#222" stroke="#222" stroke-width="0.28" text-anchor="middle">приема передачи ТС в 1:С</text>
<text transform="translate(1794.05,310.4) scale(1.065,1)" font-size="10" fill="#222" stroke="#222" stroke-width="0.28" text-anchor="middle">ДО</text>
<rect x="1380.2" y="724" width="108.8" height="59.5" rx="7" fill="#fff" stroke="#666" stroke-width="1.5"/>
<text transform="translate(1434.6,739.1) scale(1.065,1)" font-size="10" fill="#222" stroke="#222" stroke-width="0.28" text-anchor="middle">Уведомить</text>
<text transform="translate(1434.6,751.8) scale(1.065,1)" font-size="10" fill="#222" stroke="#222" stroke-width="0.28" text-anchor="middle">покупателя о</text>
<text transform="translate(1434.6,764.5) scale(1.065,1)" font-size="10" fill="#222" stroke="#222" stroke-width="0.28" text-anchor="middle">выборе его</text>
<text transform="translate(1434.6,777.2) scale(1.065,1)" font-size="10" fill="#222" stroke="#222" stroke-width="0.28" text-anchor="middle">кандидатуры</text>
<rect x="1380.2" y="800" width="108.8" height="57" rx="7" fill="#fff" stroke="#666" stroke-width="1.5"/>
<text transform="translate(1434.6,820.6) scale(1.065,1)" font-size="10" fill="#222" stroke="#222" stroke-width="0.28" text-anchor="middle">Запросить</text>
<text transform="translate(1434.6,833.8) scale(1.065,1)" font-size="10" fill="#222" stroke="#222" stroke-width="0.28" text-anchor="middle">документы для</text>
<text transform="translate(1434.6,847) scale(1.065,1)" font-size="10" fill="#222" stroke="#222" stroke-width="0.28" text-anchor="middle">подготовки договора</text>
<rect x="1236.2" y="798" width="109.1" height="59" rx="7" fill="#fff" stroke="#666" stroke-width="1.5"/>
<text transform="translate(1290.75,819.4) scale(1.065,1)" font-size="10" fill="#222" stroke="#222" stroke-width="0.28" text-anchor="middle">Отобрать наиболее</text>
<text transform="translate(1290.75,832.3) scale(1.065,1)" font-size="10" fill="#222" stroke="#222" stroke-width="0.28" text-anchor="middle">выгодное</text>
<text transform="translate(1290.75,845.2) scale(1.065,1)" font-size="10" fill="#222" stroke="#222" stroke-width="0.28" text-anchor="middle">предложение</text>
<rect x="1541.4" y="724.7" width="109.3" height="60" rx="7" fill="#fff" stroke="#666" stroke-width="1.5"/>
<text transform="translate(1596.05,739.4) scale(1.065,1)" font-size="10" fill="#222" stroke="#222" stroke-width="0.28" text-anchor="middle">Выгрузить Договор</text>
<text transform="translate(1596.05,752) scale(1.065,1)" font-size="10" fill="#222" stroke="#222" stroke-width="0.28" text-anchor="middle">купли-продажи и Акт</text>
<text transform="translate(1596.05,764.6) scale(1.065,1)" font-size="10" fill="#222" stroke="#222" stroke-width="0.28" text-anchor="middle">приема передачи ТС</text>
<text transform="translate(1596.05,777.2) scale(1.065,1)" font-size="10" fill="#222" stroke="#222" stroke-width="0.28" text-anchor="middle">в 1:С ДО</text>
<rect x="1541.4" y="800" width="109.3" height="57" rx="7" fill="#fff" stroke="#666" stroke-width="1.5"/>
<text transform="translate(1596.05,814.1) scale(1.065,1)" font-size="10" fill="#222" stroke="#222" stroke-width="0.28" text-anchor="middle">Подготовить</text>
<text transform="translate(1596.05,827) scale(1.065,1)" font-size="10" fill="#222" stroke="#222" stroke-width="0.28" text-anchor="middle">Договор купли-</text>
<text transform="translate(1596.05,839.9) scale(1.065,1)" font-size="10" fill="#222" stroke="#222" stroke-width="0.28" text-anchor="middle">продажи и Акт</text>
<text transform="translate(1596.05,852.8) scale(1.065,1)" font-size="10" fill="#222" stroke="#222" stroke-width="0.28" text-anchor="middle">приема передачи ТС</text>
<rect x="1764.4" y="588.6" width="90.6" height="60.7" rx="7" fill="#fff" stroke="#666" stroke-width="1.5"/>
<text transform="translate(1809.7,603.65) scale(1.065,1)" font-size="10" fill="#222" stroke="#222" stroke-width="0.28" text-anchor="middle">Направить</text>
<text transform="translate(1809.7,616.25) scale(1.065,1)" font-size="10" fill="#222" stroke="#222" stroke-width="0.28" text-anchor="middle">документы на</text>
<text transform="translate(1809.7,628.85) scale(1.065,1)" font-size="10" fill="#222" stroke="#222" stroke-width="0.28" text-anchor="middle">подпись</text>
<text transform="translate(1809.7,641.45) scale(1.065,1)" font-size="10" fill="#222" stroke="#222" stroke-width="0.28" text-anchor="middle">покупателю ТС</text>
<rect x="1755" y="724" width="108.8" height="59.5" rx="7" fill="#fff" stroke="#666" stroke-width="1.5"/>
<text transform="translate(1809.4,738.45) scale(1.065,1)" font-size="10" fill="#222" stroke="#222" stroke-width="0.28" text-anchor="middle">Запросить скан</text>
<text transform="translate(1809.4,751.05) scale(1.065,1)" font-size="10" fill="#222" stroke="#222" stroke-width="0.28" text-anchor="middle">счета на оплату и</text>
<text transform="translate(1809.4,763.65) scale(1.065,1)" font-size="10" fill="#222" stroke="#222" stroke-width="0.28" text-anchor="middle">документы</text>
<text transform="translate(1809.4,776.25) scale(1.065,1)" font-size="10" fill="#222" stroke="#222" stroke-width="0.28" text-anchor="middle">реализации</text>
<rect x="1866.5" y="836" width="109.2" height="28" rx="7" fill="#fff" stroke="#666" stroke-width="1.5"/>
<text transform="translate(1921.1,857.6) scale(1.065,1)" font-size="10" fill="#222" stroke="#222" stroke-width="0.28" text-anchor="middle">Направить счет на</text>
<path d="M1457,127.6 H1477.4 L1487.4,137.6 V168.3 H1457 Z" fill="#b0c3de" stroke="#5a6270" stroke-width="1.5" stroke-linejoin="round"/>
<path d="M1477.4,127.6 V137.6 H1487.4 Z" fill="#c9d5e8" stroke="#5a6270" stroke-width="1.2000000000000002" stroke-linejoin="round"/>
<text transform="translate(1472.2,181.66) scale(1.04,1)" font-size="9.6" font-weight="bold" fill="#222" text-anchor="middle">1:С ДО</text>
<path d="M1703.7,36.2 H1721.2 L1731.2,46.2 V72.5 H1703.7 Z" fill="#b0c3de" stroke="#5a6270" stroke-width="1.5" stroke-linejoin="round"/>
<path d="M1721.2,36.2 V46.2 H1731.2 Z" fill="#c9d5e8" stroke="#5a6270" stroke-width="1.2000000000000002" stroke-linejoin="round"/>
<text transform="translate(1717.45,84.66) scale(1.04,1)" font-size="9.6" font-weight="bold" fill="#222" text-anchor="middle">Договор купли-</text>
<text transform="translate(1717.45,97.96) scale(1.04,1)" font-size="9.6" font-weight="bold" fill="#222" text-anchor="middle">продажи ТС</text>
<path d="M1703.7,111.2 H1721.2 L1731.2,121.2 V147 H1703.7 Z" fill="#b0c3de" stroke="#5a6270" stroke-width="1.5" stroke-linejoin="round"/>
<path d="M1721.2,111.2 V121.2 H1731.2 Z" fill="#c9d5e8" stroke="#5a6270" stroke-width="1.2000000000000002" stroke-linejoin="round"/>
<text transform="translate(1717.45,159.66) scale(1.04,1)" font-size="9.6" font-weight="bold" fill="#222" text-anchor="middle">Акт приема</text>
<text transform="translate(1717.45,173.46) scale(1.04,1)" font-size="9.6" font-weight="bold" fill="#222" text-anchor="middle">передачи ТС</text>
<path d="M1672,306 H1693.2 L1703.2,316 V346.9 H1672 Z" fill="#b0c3de" stroke="#5a6270" stroke-width="1.5" stroke-linejoin="round"/>
<path d="M1693.2,306 V316 H1703.2 Z" fill="#c9d5e8" stroke="#5a6270" stroke-width="1.2000000000000002" stroke-linejoin="round"/>
<text transform="translate(1687.6,361.26) scale(1.04,1)" font-size="9.6" font-weight="bold" fill="#222" text-anchor="middle">1:С ДО</text>
<path d="M1943.4,208.3 H1961.2 L1971.2,218.3 V244.5 H1943.4 Z" fill="#b0c3de" stroke="#5a6270" stroke-width="1.5" stroke-linejoin="round"/>
<path d="M1961.2,208.3 V218.3 H1971.2 Z" fill="#c9d5e8" stroke="#5a6270" stroke-width="1.2000000000000002" stroke-linejoin="round"/>
<text transform="translate(1957.3,258.06) scale(1.04,1)" font-size="9.6" font-weight="bold" fill="#222" text-anchor="middle">Договор купли-</text>
<text transform="translate(1957.3,270.16) scale(1.04,1)" font-size="9.6" font-weight="bold" fill="#222" text-anchor="middle">продажи ТС</text>
<path d="M1894.6,311 H1912.4 L1922.4,321 V346.9 H1894.6 Z" fill="#b0c3de" stroke="#5a6270" stroke-width="1.5" stroke-linejoin="round"/>
<path d="M1912.4,311 V321 H1922.4 Z" fill="#c9d5e8" stroke="#5a6270" stroke-width="1.2000000000000002" stroke-linejoin="round"/>
<text transform="translate(1908.5,359.96) scale(1.04,1)" font-size="9.6" font-weight="bold" fill="#222" text-anchor="middle">Акт приема</text>
<text transform="translate(1908.5,372.36) scale(1.04,1)" font-size="9.6" font-weight="bold" fill="#222" text-anchor="middle">передачи ТС</text>
<path d="M1687.4,558.2 H1704.7 L1714.7,568.2 V594.2 H1687.4 Z" fill="#b0c3de" stroke="#5a6270" stroke-width="1.5" stroke-linejoin="round"/>
<path d="M1704.7,558.2 V568.2 H1714.7 Z" fill="#c9d5e8" stroke="#5a6270" stroke-width="1.2000000000000002" stroke-linejoin="round"/>
<text transform="translate(1701.05,608.66) scale(1.04,1)" font-size="9.6" font-weight="bold" fill="#222" text-anchor="middle">Договор купли-</text>
<text transform="translate(1701.05,621.26) scale(1.04,1)" font-size="9.6" font-weight="bold" fill="#222" text-anchor="middle">продажи ТС</text>
<path d="M1687.4,631 H1704.7 L1714.7,641 V666.3 H1687.4 Z" fill="#b0c3de" stroke="#5a6270" stroke-width="1.5" stroke-linejoin="round"/>
<path d="M1704.7,631 V641 H1714.7 Z" fill="#c9d5e8" stroke="#5a6270" stroke-width="1.2000000000000002" stroke-linejoin="round"/>
<text transform="translate(1701.05,680.06) scale(1.04,1)" font-size="9.6" font-weight="bold" fill="#222" text-anchor="middle">Акт приема</text>
<text transform="translate(1701.05,692.46) scale(1.04,1)" font-size="9.6" font-weight="bold" fill="#222" text-anchor="middle">передачи ТС</text>
<path d="M1688.6,757 H1705.9 L1715.9,767 V792.3 H1688.6 Z" fill="#b0c3de" stroke="#5a6270" stroke-width="1.5" stroke-linejoin="round"/>
<path d="M1705.9,757 V767 H1715.9 Z" fill="#c9d5e8" stroke="#5a6270" stroke-width="1.2000000000000002" stroke-linejoin="round"/>
<text transform="translate(1702.25,806.46) scale(1.04,1)" font-size="9.6" font-weight="bold" fill="#222" text-anchor="middle">Договор купли-</text>
<text transform="translate(1702.25,818.46) scale(1.04,1)" font-size="9.6" font-weight="bold" fill="#222" text-anchor="middle">продажи ТС</text>
<path d="M1688.6,832 H1705.9 L1715.9,842 V866 H1688.6 Z" fill="#b0c3de" stroke="#5a6270" stroke-width="1.5" stroke-linejoin="round"/>
<path d="M1705.9,832 V842 H1715.9 Z" fill="#c9d5e8" stroke="#5a6270" stroke-width="1.2000000000000002" stroke-linejoin="round"/>
<path d="M1526.2,105.3 L1472,105.3 L1472,127.6" fill="none" stroke="#111" stroke-width="2" stroke-dasharray="2 2.6"/>
<path d="M1467.7,119 L1472,127.6 L1476.3,119" fill="none" stroke="#222" stroke-width="1.5"/>
<path d="M1665,90.5 L1678.7,90.5 L1678.7,53.7 L1703.7,53.7" fill="none" stroke="#111" stroke-width="2" stroke-dasharray="2 2.6"/>
<path d="M1695.1,49.4 L1703.7,53.7 L1695.1,58" fill="none" stroke="#222" stroke-width="1.5"/>
<path d="M1665,105 L1678.7,105 L1678.7,129.2 L1703.7,129.2" fill="none" stroke="#111" stroke-width="2" stroke-dasharray="2 2.6"/>
<path d="M1695.1,124.9 L1703.7,129.2 L1695.1,133.5" fill="none" stroke="#222" stroke-width="1.5"/>
<path d="M1828.8,257.1 L1828.8,226.8 L1943.4,226.8" fill="none" stroke="#111" stroke-width="2" stroke-dasharray="2 2.6"/>
<path d="M1934.8,222.5 L1943.4,226.8 L1934.8,231.1" fill="none" stroke="#222" stroke-width="1.5"/>
<path d="M1828.8,317.8 L1828.8,329.2 L1894.6,329.2" fill="none" stroke="#111" stroke-width="2" stroke-dasharray="2 2.6"/>
<path d="M1886,324.9 L1894.6,329.2 L1886,333.5" fill="none" stroke="#222" stroke-width="1.5"/>
<path d="M1724.4,287 L1687.2,287 L1687.2,306" fill="none" stroke="#111" stroke-width="2" stroke-dasharray="2 2.6"/>
<path d="M1682.9,297.4 L1687.2,306 L1691.5,297.4" fill="none" stroke="#222" stroke-width="1.5"/>
<path d="M1786.8,588.6 L1786.8,576 L1714.7,576" fill="none" stroke="#111" stroke-width="2" stroke-dasharray="2 2.6"/>
<path d="M1723.3,571.7 L1714.7,576 L1723.3,580.3" fill="none" stroke="#222" stroke-width="1.5"/>
<path d="M1786.8,649.3 L1786.8,675.8 L1741.7,675.8 L1741.7,648 L1714.7,648" fill="none" stroke="#111" stroke-width="2" stroke-dasharray="2 2.6"/>
<path d="M1723.3,643.7 L1714.7,648 L1723.3,652.3" fill="none" stroke="#222" stroke-width="1.5"/>
<path d="M1650.7,813 L1663.5,813 L1663.5,774.4 L1688.6,774.4" fill="none" stroke="#111" stroke-width="2" stroke-dasharray="2 2.6"/>
<path d="M1680,770.1 L1688.6,774.4 L1680,778.7" fill="none" stroke="#222" stroke-width="1.5"/>
<path d="M1650.7,833 L1663.5,833 L1663.5,849 L1688.6,849" fill="none" stroke="#111" stroke-width="2" stroke-dasharray="2 2.6"/>
<path d="M1680,844.7 L1688.6,849 L1680,853.3" fill="none" stroke="#222" stroke-width="1.5"/>
<rect x="1218.5" y="857.5" width="782" height="16" fill="#fff"/>
<rect x="1218" y="858" width="484.5" height="5.3" fill="#dadada"/>
<rect x="1218.5" y="858.3" width="6.5" height="4.7" fill="#fff"/>
<line x1="1218" y1="857.6" x2="2000" y2="857.6" stroke="#cfcfcf" stroke-width="1.1"/>
<line x1="1702" y1="863.4" x2="2000" y2="863.4" stroke="#dedede" stroke-width="1"/>
</g></svg>
</body></html>
